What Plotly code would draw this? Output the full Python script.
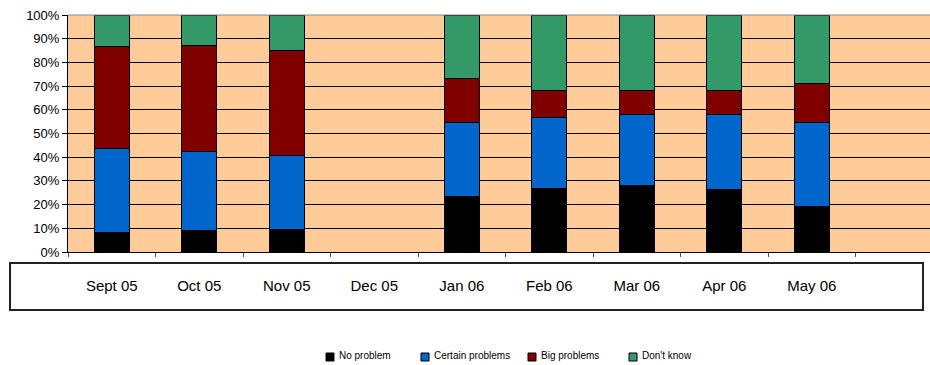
import plotly.graph_objects as go

# Monthly survey results (percent of respondents per answer)
months = ["Sept 05", "Oct 05", "Nov 05", "Dec 05", "Jan 06", "Feb 06",
          "Mar 06", "Apr 06", "May 06"]
no_problem = [8.3, 9.0, 9.4, None, 23.3, 26.7, 28.2, 26.3, 19.4]
certain_problems = [35.4, 33.3, 31.2, None, 31.5, 30.2, 29.8, 31.7, 35.4]
big_problems = [43.2, 44.9, 44.6, None, 18.5, 11.4, 10.3, 10.0, 16.1]
dont_know = [13.1, 12.8, 14.8, None, 26.7, 31.7, 31.7, 32.0, 29.1]

series_names = ["No problem", "Certain problems", "Big problems", "Don't know"]
series_values = [no_problem, certain_problems, big_problems, dont_know]
series_colors = ["#000000", "#0066CC", "#800000", "#339966"]

positions = list(range(len(months)))

W, H = 930, 365
M_L, M_R, M_T, M_B = 68, 0, 15, 113
PLOT_W = W - M_L - M_R
PLOT_H = H - M_T - M_B


def px_to_paper_x(px):
    return (px - M_L) / PLOT_W


def px_to_paper_y(py):
    return (H - M_B - py) / PLOT_H


fig = go.Figure()
for name, vals, color in zip(series_names, series_values, series_colors):
    fig.add_trace(go.Bar(
        x=positions, y=vals, name=name, width=0.4, showlegend=False,
        marker=dict(color=color, line=dict(color="#000000", width=1)),
    ))

fig.update_layout(
    barmode="stack",
    width=W, height=H,
    margin=dict(l=M_L, r=M_R, t=M_T, b=M_B, autoexpand=False),
    paper_bgcolor="#FFFFFF",
    plot_bgcolor="#FFCC99",
    font=dict(family="Liberation Sans, Arial, sans-serif", color="#000000"),
    showlegend=False,
)

fig.update_xaxes(
    range=[-0.5, 9.35],
    tickvals=positions, ticktext=months,
    ticks="", ticklabelstandoff=20,
    tickfont=dict(size=15),
    showgrid=False, zeroline=False,
    showline=True, linecolor="#000000", linewidth=1,
    minor=dict(tickvals=[p - 0.5 for p in positions] + [8.5],
               ticks="outside", ticklen=4, tickcolor="#555555", showgrid=False),
)

fig.update_yaxes(
    range=[0, 100], dtick=10, ticksuffix="%",
    ticks="outside", ticklen=5, tickcolor="#000000",
    tickfont=dict(size=13),
    showgrid=True, gridcolor="#000000", gridwidth=1,
    zeroline=False,
    showline=True, linecolor="#000000", linewidth=1,
)

# Top border of the plotting area
fig.add_shape(type="line", xref="paper", yref="paper", x0=0, x1=1, y0=1, y1=1,
              line=dict(color="#888888", width=1))

# Frame around the month labels
fig.add_shape(type="rect", xref="paper", yref="paper",
              x0=px_to_paper_x(10), x1=px_to_paper_x(923),
              y0=px_to_paper_y(310), y1=px_to_paper_y(263),
              line=dict(color="#222222", width=2), fillcolor="rgba(0,0,0,0)")

# Legend row: small swatch followed by the series name
legend_swatch_x = [326, 421, 528, 629]
for name, color, sx in zip(series_names, series_colors, legend_swatch_x):
    fig.add_shape(type="rect", xref="paper", yref="paper",
                  x0=px_to_paper_x(sx), x1=px_to_paper_x(sx + 8),
                  y0=px_to_paper_y(361), y1=px_to_paper_y(353),
                  line=dict(color="#000000", width=1), fillcolor=color)
    fig.add_annotation(text=name, xref="paper", yref="paper",
                       x=px_to_paper_x(sx + 11), y=px_to_paper_y(355.5),
                       xanchor="left", yanchor="middle", showarrow=False,
                       font=dict(size=10, color="#000000"))

fig.write_html("out.html")
